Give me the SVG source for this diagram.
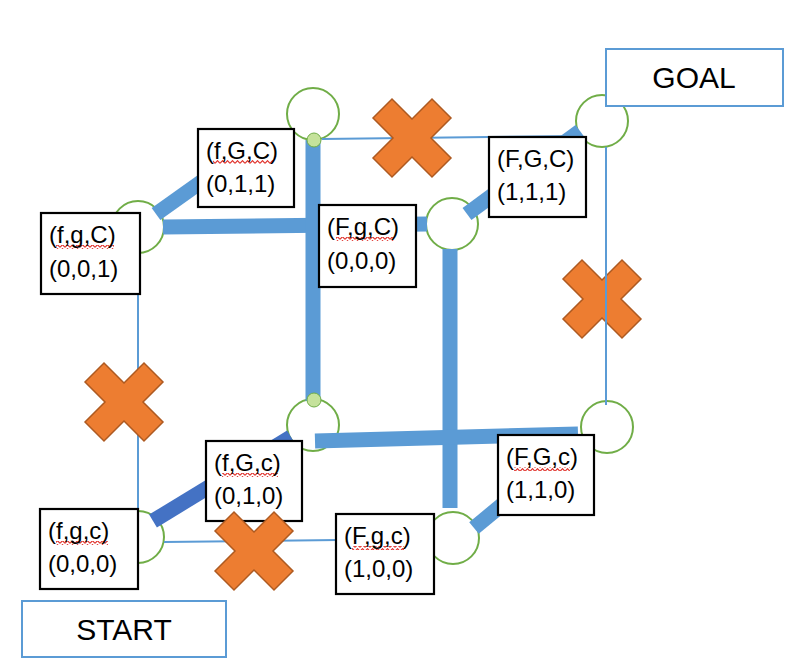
<svg xmlns="http://www.w3.org/2000/svg" width="806" height="666" viewBox="0 0 806 666">
<defs>
<style>
.v{fill:none;stroke:#70AD47;stroke-width:2}
.thin{stroke:#5B9BD5;stroke-width:2;fill:none}
.thick{stroke:#5B9BD5;stroke-width:15;fill:none}
.dark{stroke:#4472C4;stroke-width:15;fill:none}
.box{fill:#fff;stroke:#000;stroke-width:2.2}
.bbox{fill:#fff;stroke:#5B9BD5;stroke-width:2}
.t{font-family:"Liberation Sans",Arial,sans-serif;font-size:24px;fill:#000}
.big{font-family:"Liberation Sans",Arial,sans-serif;font-size:30px;fill:#000;text-anchor:middle}
.x{fill:#ED7D31;stroke:#AE5A21;stroke-width:1.5}
.dot{fill:#C5E29B;stroke:#70AD47;stroke-width:1}
.sq{fill:url(#squig)}
</style>
<pattern id="squig" patternUnits="userSpaceOnUse" width="5" height="4">
<polyline points="0,3.3 2.5,0.7 5,3.3" fill="none" stroke="#E0302A" stroke-width="1.2"/>
</pattern>
<path id="cross" d="M0,-19 L20,-39 L39,-20 L19,0 L39,20 L20,39 L0,19 L-20,39 L-39,20 L-19,0 L-39,-20 L-20,-39 Z"/>
</defs>
<rect width="806" height="666" fill="#fff"/>

<g id="x-right"><use href="#cross" class="x" x="602" y="299"/></g>

<g id="vertices">
<circle id="v011" class="v" cx="313" cy="114" r="26"/>
<circle id="v001" class="v" cx="138" cy="227" r="26"/>
<circle id="v111" class="v" cx="602" cy="121" r="26"/>
<circle id="v000b" class="v" cx="452" cy="224" r="26"/>
<circle id="v010" class="v" cx="313" cy="425" r="26"/>
<circle id="v110" class="v" cx="607" cy="427" r="26"/>
<circle id="v000" class="v" cx="138" cy="537" r="26"/>
<circle id="v100" class="v" cx="453" cy="538" r="26"/>
</g>

<g id="connectors">
<line class="thin" x1="322" y1="139" x2="581" y2="136"/>
<line class="thin" x1="606" y1="147" x2="606" y2="405"/>
<line class="thin" x1="138" y1="253" x2="138" y2="512"/>
<line class="thin" x1="164" y1="542" x2="338" y2="540"/>
<line class="thick" x1="156" y1="214" x2="215" y2="172"/>
<line class="thick" x1="163" y1="227" x2="427" y2="224"/>
<line class="thick" x1="313" y1="140" x2="313" y2="401"/>
<line class="thick" x1="450" y1="249" x2="450" y2="508"/>
<line class="thick" x1="467" y1="214" x2="580" y2="131"/>
<line class="thick" x1="315" y1="441" x2="578" y2="434"/>
<line class="thick" x1="474" y1="528" x2="520" y2="490"/>
<line class="dark" x1="153" y1="521" x2="291" y2="437"/>
</g>

<g id="n-fGC">
<rect class="box" x="198" y="129" width="96" height="78"/>
<rect class="sq" x="213" y="160" width="60" height="4"/>
<text class="t" x="206" y="159">(f,G,C)</text>
<text class="t" x="206" y="192">(0,1,1)</text>
</g>
<g id="n-fgC">
<rect class="box" x="41" y="213" width="99" height="81"/>
<rect class="sq" x="56" y="245" width="58" height="4"/>
<text class="t" x="49" y="243">(f,g,C)</text>
<text class="t" x="49" y="277">(0,0,1)</text>
</g>
<g id="n-FgC">
<rect class="box" x="319" y="205" width="97" height="82"/>
<rect class="sq" x="336" y="237" width="58" height="4"/>
<text class="t" x="327" y="235">(F,g,C)</text>
<text class="t" x="327" y="269">(0,0,0)</text>
</g>
<g id="n-FGC">
<rect class="box" x="489" y="137" width="97" height="80"/>
<text class="t" x="497" y="167">(F,G,C)</text>
<text class="t" x="497" y="200">(1,1,1)</text>
</g>
<g id="n-fGc">
<rect class="box" x="206" y="441" width="96" height="80"/>
<rect class="sq" x="222" y="473" width="56" height="4"/>
<text class="t" x="214" y="471">(f,G,c)</text>
<text class="t" x="214" y="504">(0,1,0)</text>
</g>
<g id="n-fgc">
<rect class="box" x="40" y="509" width="98" height="80"/>
<rect class="sq" x="56" y="541" width="52" height="4"/>
<text class="t" x="48" y="539">(f,g,c)</text>
<text class="t" x="48" y="572">(0,0,0)</text>
</g>
<g id="n-Fgc">
<rect class="box" x="336" y="514" width="98" height="80"/>
<rect class="sq" x="352" y="546" width="52" height="4"/>
<text class="t" x="344" y="544">(F,g,c)</text>
<text class="t" x="344" y="577">(1,0,0)</text>
</g>
<g id="n-FGc">
<rect class="box" x="498" y="435" width="96" height="80"/>
<rect class="sq" x="514" y="467" width="56" height="4"/>
<text class="t" x="506" y="465">(F,G,c)</text>
<text class="t" x="506" y="498">(1,1,0)</text>
</g>

<g id="goal">
<rect class="bbox" x="606" y="49" width="177" height="57"/>
<text class="big" x="694" y="88">GOAL</text>
</g>
<g id="start">
<rect class="bbox" x="22" y="601" width="204" height="56"/>
<text class="big" x="124" y="640">START</text>
</g>

<g id="x-marks">
<use href="#cross" class="x" x="412" y="138"/>
<use href="#cross" class="x" x="124" y="402"/>
<use href="#cross" class="x" x="254" y="551"/>
</g>

<g id="junctions">
<circle class="dot" cx="314" cy="140" r="7"/>
<circle class="dot" cx="314" cy="400" r="7"/>
</g>
</svg>
